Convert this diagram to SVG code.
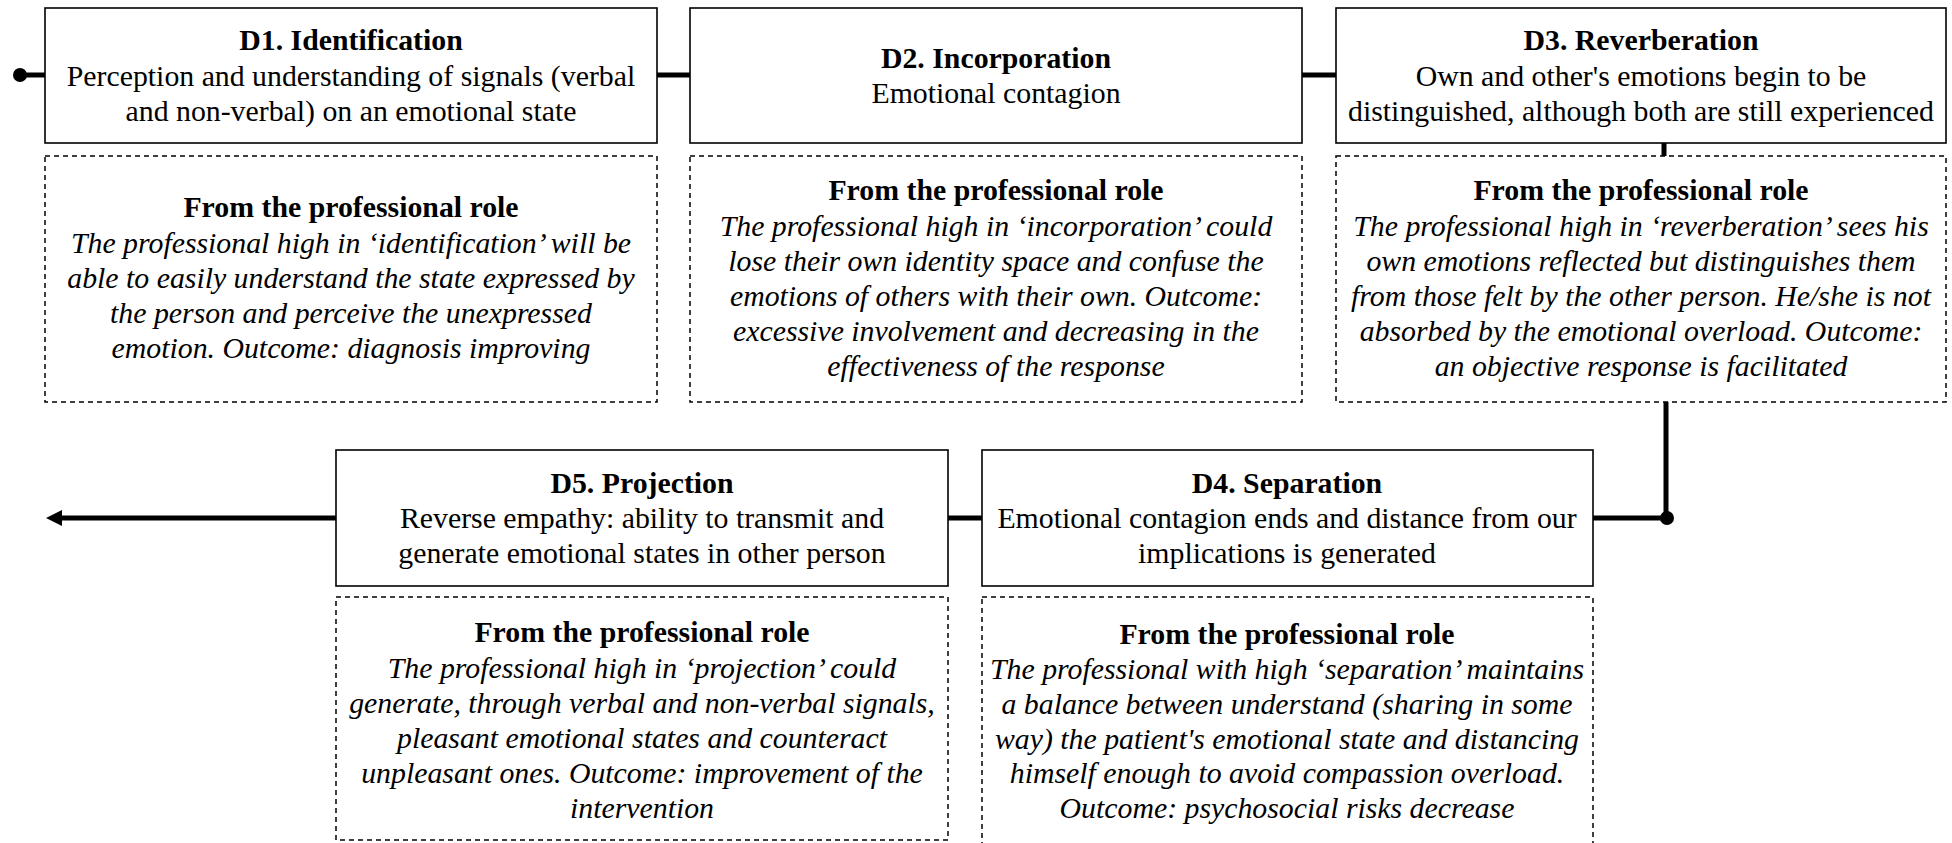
<svg xmlns="http://www.w3.org/2000/svg" width="1952" height="843" viewBox="0 0 1952 843">
<style>
.box{fill:#fff;stroke:#000;stroke-width:1.6}
.dbox{fill:#fff;stroke:#000;stroke-width:1.5;stroke-dasharray:5 4}
.t{font-family:"Liberation Serif","Times New Roman",serif;font-size:29.8px;fill:#000;text-anchor:middle}
.b{font-weight:bold}
.i{font-style:italic}
.con{stroke:#000;stroke-width:5;fill:none}
</style>
<rect width="1952" height="843" fill="#fff"/>
<g id="connectors">
<line class="con" x1="20" y1="75" x2="45" y2="75"/>
<circle cx="20" cy="75" r="7" fill="#000"/>
<line class="con" x1="657" y1="75" x2="690" y2="75"/>
<line class="con" x1="1302" y1="75" x2="1336" y2="75"/>
<line class="con" x1="1664" y1="143" x2="1664" y2="156"/>
<line class="con" x1="1666" y1="402" x2="1666" y2="518"/>
<line class="con" x1="1593" y1="518" x2="1666" y2="518"/>
<circle cx="1667" cy="518" r="7" fill="#000"/>
<line class="con" x1="948" y1="518" x2="982" y2="518"/>
<line class="con" x1="336" y1="518" x2="62" y2="518"/>
<path d="M46,518 L62,510 L62,526 Z" fill="#000"/>
</g>
<g id="D1">
<rect class="box" x="45" y="8" width="612" height="135"/>
<text class="t b" x="351" y="50">D1. Identification</text>
<text class="t" x="351" y="86">Perception and understanding of signals (verbal</text>
<text class="t" x="351" y="121">and non-verbal) on an emotional state</text>
</g>
<g id="D1-role">
<rect class="dbox" x="45" y="156" width="612" height="246"/>
<text class="t b" x="351" y="217">From the professional role</text>
<text class="t i" x="351" y="253">The professional high in ‘identification’ will be</text>
<text class="t i" x="351" y="288">able to easily understand the state expressed by</text>
<text class="t i" x="351" y="323">the person and perceive the unexpressed</text>
<text class="t i" x="351" y="358">emotion. Outcome: diagnosis improving</text>
</g>
<g id="D2">
<rect class="box" x="690" y="8" width="612" height="135"/>
<text class="t b" x="996" y="68">D2. Incorporation</text>
<text class="t" x="996" y="103">Emotional contagion</text>
</g>
<g id="D2-role">
<rect class="dbox" x="690" y="156" width="612" height="246"/>
<text class="t b" x="996" y="200">From the professional role</text>
<text class="t i" x="996" y="236">The professional high in ‘incorporation’ could</text>
<text class="t i" x="996" y="271">lose their own identity space and confuse the</text>
<text class="t i" x="996" y="306">emotions of others with their own. Outcome:</text>
<text class="t i" x="996" y="341">excessive involvement and decreasing in the</text>
<text class="t i" x="996" y="376">effectiveness of the response</text>
</g>
<g id="D3">
<rect class="box" x="1336" y="8" width="610" height="135"/>
<text class="t b" x="1641" y="50">D3. Reverberation</text>
<text class="t" x="1641" y="86">Own and other's emotions begin to be</text>
<text class="t" x="1641" y="121">distinguished, although both are still experienced</text>
</g>
<g id="D3-role">
<rect class="dbox" x="1336" y="156" width="610" height="246"/>
<text class="t b" x="1641" y="200">From the professional role</text>
<text class="t i" x="1641" y="236">The professional high in ‘reverberation’ sees his</text>
<text class="t i" x="1641" y="271">own emotions reflected but distinguishes them</text>
<text class="t i" x="1641" y="306">from those felt by the other person. He/she is not</text>
<text class="t i" x="1641" y="341">absorbed by the emotional overload. Outcome:</text>
<text class="t i" x="1641" y="376">an objective response is facilitated</text>
</g>
<g id="D4">
<rect class="box" x="982" y="450" width="611" height="136"/>
<text class="t b" x="1287" y="493">D4. Separation</text>
<text class="t" x="1287" y="528">Emotional contagion ends and distance from our</text>
<text class="t" x="1287" y="563">implications is generated</text>
</g>
<g id="D4-role">
<rect class="dbox" x="982" y="597" width="611" height="270"/>
<text class="t b" x="1287" y="644">From the professional role</text>
<text class="t i" x="1287" y="679">The professional with high ‘separation’ maintains</text>
<text class="t i" x="1287" y="714">a balance between understand (sharing in some</text>
<text class="t i" x="1287" y="749">way) the patient's emotional state and distancing</text>
<text class="t i" x="1287" y="783">himself enough to avoid compassion overload.</text>
<text class="t i" x="1287" y="818">Outcome: psychosocial risks decrease</text>
</g>
<g id="D5">
<rect class="box" x="336" y="450" width="612" height="136"/>
<text class="t b" x="642" y="493">D5. Projection</text>
<text class="t" x="642" y="528">Reverse empathy: ability to transmit and</text>
<text class="t" x="642" y="563">generate emotional states in other person</text>
</g>
<g id="D5-role">
<rect class="dbox" x="336" y="597" width="612" height="243"/>
<text class="t b" x="642" y="642">From the professional role</text>
<text class="t i" x="642" y="678">The professional high in ‘projection’ could</text>
<text class="t i" x="642" y="713">generate, through verbal and non-verbal signals,</text>
<text class="t i" x="642" y="748">pleasant emotional states and counteract</text>
<text class="t i" x="642" y="783">unpleasant ones. Outcome: improvement of the</text>
<text class="t i" x="642" y="818">intervention</text>
</g>
</svg>
